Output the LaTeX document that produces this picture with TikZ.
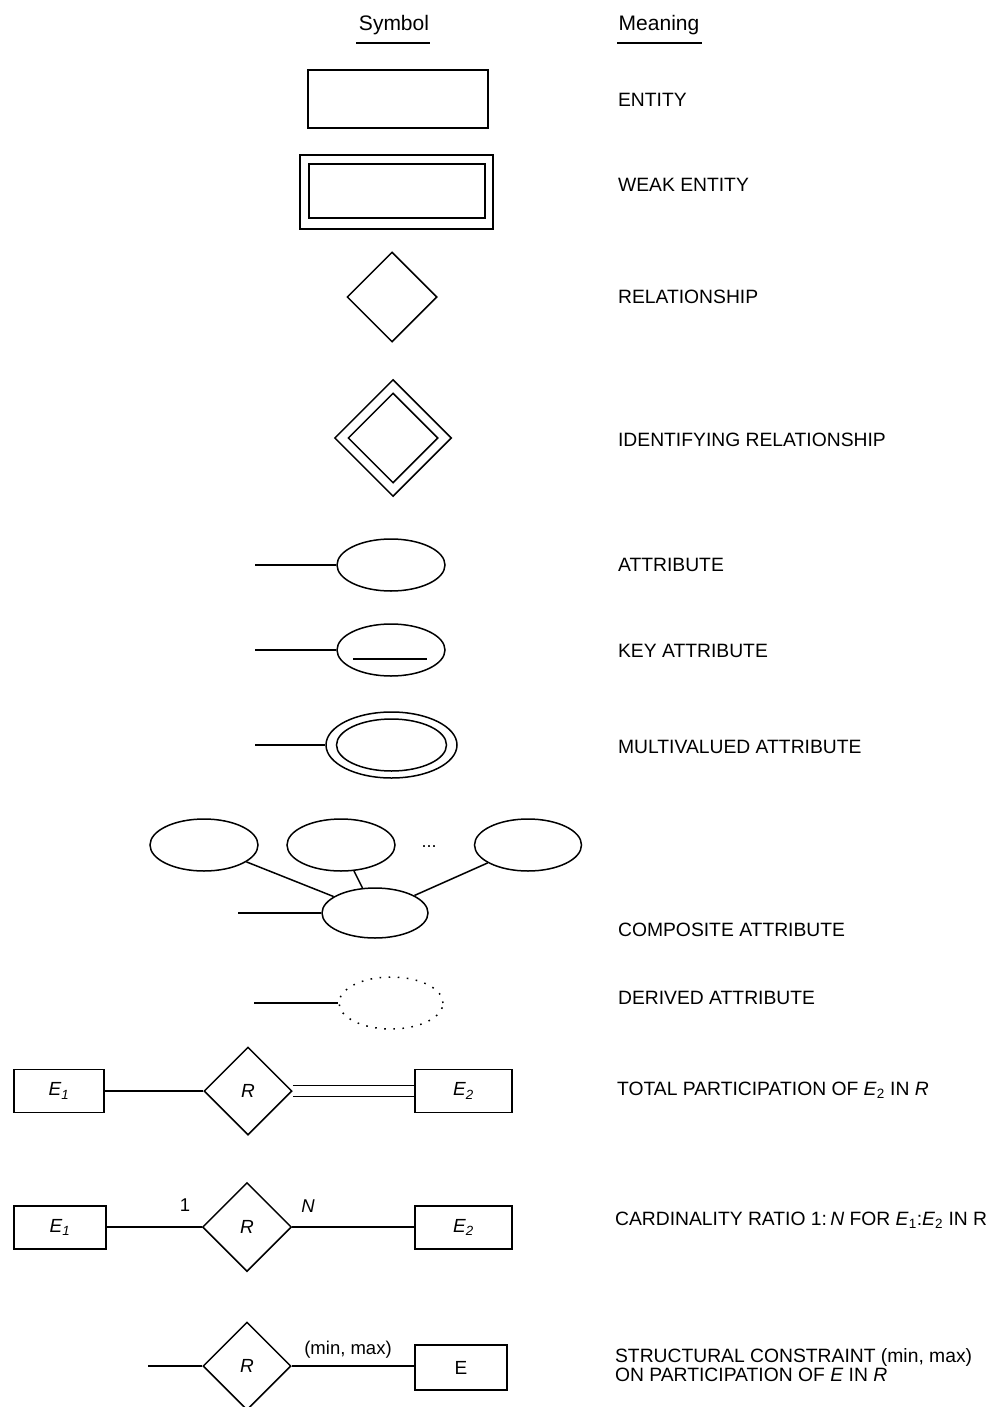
\documentclass[tikz,border=0pt]{standalone}
\usepackage{fontspec}
\setmainfont{Liberation Sans}
\usetikzlibrary{shapes.geometric}

\begin{document}
\begin{tikzpicture}[x=1pt,y=-1pt,line width=1.5pt]
\tikzset{
  box/.style={draw, rectangle, inner sep=0pt},
  rel/.style={draw, diamond, aspect=1, inner sep=0pt, minimum width=#1, minimum height=#1},
  oval/.style={draw, ellipse, inner sep=0pt},
  lbl/.style={font=\fontsize{19}{22}\selectfont\itshape},
  head/.style={font=\fontsize{21}{24}\selectfont},
  meaning/.style={anchor=west, align=left, font=\fontsize{19.3}{18.5}\selectfont},
  card/.style={font=\fontsize{18.5}{20}\selectfont},
}
\useasboundingbox (0,0) rectangle (991,1407);

% column headings
\node[head] (hsym) at (394,25) {Symbol};
\node[head] (hmean) at (659,25) {Meaning};
\draw (356,43) -- (430,43);
\draw (617,43) -- (702,43);

% entity and weak entity
\node[box, minimum width=180pt, minimum height=58pt] (ent) at (398,99) {};
\node[box, minimum width=193pt, minimum height=74pt] (weako) at (396.5,192) {};
\node[box, minimum width=176pt, minimum height=54pt] (weaki) at (397,191) {};

% relationship and identifying relationship
\node[rel=90pt] (relsh) at (392,297) {};
\node[rel=117pt] (idro) at (393,438) {};
\node[rel=90pt] (idri) at (393,438) {};

% attribute
\node[oval, minimum width=108pt, minimum height=52pt] (att) at (391,565) {};
\coordinate (attend) at (255,565);
\draw (attend) -- (att.west);

% key attribute
\node[oval, minimum width=108pt, minimum height=52pt] (key) at (391,650) {};
\coordinate (keyend) at (255,650);
\draw (keyend) -- (key.west);
\draw ([xshift=-38pt,yshift=-9pt]key.center) -- ([xshift=36pt,yshift=-9pt]key.center);

% multivalued attribute
\node[oval, minimum width=131pt, minimum height=66pt] (mvo) at (391.5,745) {};
\node[oval, minimum width=110pt, minimum height=52pt] (mvi) at (391.5,745) {};
\coordinate (mvend) at (255,745);
\draw (mvend) -- (mvo.west);

% composite attribute
\node[oval, minimum width=108pt, minimum height=52pt] (c1) at (204,845) {};
\node[oval, minimum width=108pt, minimum height=52pt] (c2) at (341,845) {};
\node[oval, minimum width=107pt, minimum height=52pt] (c3) at (528,845) {};
\node[anchor=base, font=\fontsize{18}{20}\selectfont] (cdots) at (429,847) {...};
\node[oval, minimum width=106pt, minimum height=50pt] (c0) at (375,913) {};
\coordinate (cend) at (238,913);
\draw (cend) -- (c0.west);
\draw (c1) -- (c0);
\draw (c2) -- (c0);
\draw (c3) -- (c0);

% derived attribute
\node[oval, dash pattern=on 1.6pt off 7.5pt, minimum width=104pt, minimum height=52pt] (der) at (391,1003) {};
\coordinate (derend) at (254,1003);
\draw (derend) -- (der.west);

% total participation
\node[box, minimum width=90pt, minimum height=43pt, lbl] (tp1) at (59,1091) {E\textsubscript{1}};
\node[rel=88pt, lbl] (tpr) at (248,1091) {R};
\node[box, minimum width=97pt, minimum height=43pt, lbl] (tp2) at (463.5,1091) {E\textsubscript{2}};
\draw (tp1) -- (tpr);
\draw[double, double distance=9.5pt] (tpr.east) -- (tp2.west);

% cardinality ratio
\node[box, minimum width=92pt, minimum height=43pt, lbl] (cr1) at (60,1227.5) {E\textsubscript{1}};
\node[rel=89pt, lbl] (crr) at (247,1227) {R};
\node[box, minimum width=97pt, minimum height=43pt, lbl] (cr2) at (463.5,1227.5) {E\textsubscript{2}};
\draw (cr1.east |- crr.west) -- (crr.west);
\draw (crr.east) -- (cr2.west |- crr.east);
\node[card] (one) at (185,1205) {1};
\node[card, font=\fontsize{18.5}{20}\selectfont\itshape] (enn) at (308,1206) {N};

% structural constraint
\node[rel=88pt, lbl] (scr) at (247,1366) {R};
\node[box, minimum width=92pt, minimum height=45pt, font=\fontsize{19}{22}\selectfont] (sce) at (461,1367.5) {E};
\coordinate (scend) at (148,1366);
\draw (scend) -- (scr.west);
\draw (scr.east) -- (sce.west |- scr.east);
\node[card] (minmax) at (348,1350) {(min, max)};

% meanings
\node[meaning] (m1) at (614,100) {ENTITY};
\node[meaning] (m2) at (614,185) {WEAK ENTITY};
\node[meaning] (m3) at (614,297) {RELATIONSHIP};
\node[meaning] (m4) at (614,440) {IDENTIFYING RELATIONSHIP};
\node[meaning] (m5) at (614,565) {ATTRIBUTE};
\node[meaning] (m6) at (614,651) {KEY ATTRIBUTE};
\node[meaning] (m7) at (614,747) {MULTIVALUED ATTRIBUTE};
\node[meaning] (m8) at (614,930) {COMPOSITE ATTRIBUTE};
\node[meaning] (m9) at (614,998) {DERIVED ATTRIBUTE};
\node[meaning] (m10) at (613,1090) {TOTAL PARTICIPATION OF \textit{E}\textsubscript{2} IN \textit{R}};
\node[meaning] (m11) at (611,1220) {CARDINALITY RATIO 1:\,\textit{N} FOR \textit{E}\textsubscript{1}:\textit{E}\textsubscript{2} IN R};
\node[meaning] (m12) at (611,1365) {STRUCTURAL CONSTRAINT (min, max)\\ON PARTICIPATION OF \textit{E} IN \textit{R}};
\end{tikzpicture}
\end{document}
